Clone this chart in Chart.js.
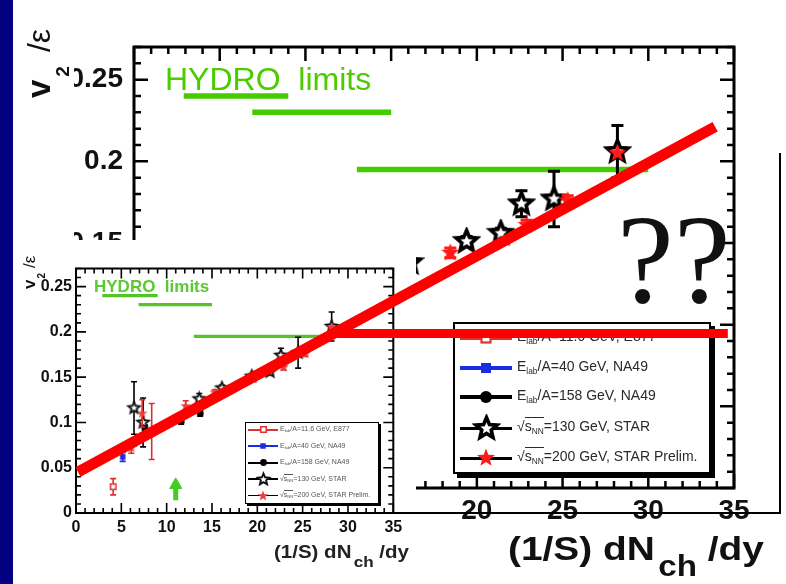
<!DOCTYPE html>
<html><head><meta charset="utf-8">
<script src="https://cdn.jsdelivr.net/npm/chart.js@4/dist/chart.umd.min.js"></script>
<style>
html,body{margin:0;padding:0;background:#fff;}
#stage{position:relative;width:786px;height:584px;overflow:hidden;background:#fff;font-family:"Liberation Sans",Arial,sans-serif;color:#111;}
.abs{position:absolute;}
.rot{transform:rotate(-90deg);transform-origin:0 0;white-space:nowrap;line-height:1;}
.nw{white-space:pre;line-height:1;}
.leg sub{font-size:0.6em;vertical-align:-0.3em;line-height:0;}
.ov{border-top:1.4px solid currentColor;}
.legbox{background:#fff;border:2px solid #000;box-sizing:border-box;}
</style></head>
<body>
<div id="stage">
  <canvas id="big" class="abs" width="786" height="584" style="left:0;top:0;z-index:1"></canvas>
  <div class="abs nw" id="hydroBig" style="left:165px;top:63px;font-size:32px;color:#4ccc00;z-index:2">HYDRO  limits</div>
  <div class="abs rot" id="ytBig" style="left:22px;top:98px;font-size:33px;z-index:2"><b>v</b><b style="font-size:19px;vertical-align:-19px;margin-left:3px">2</b><span style="font-size:32px;margin-left:14px">/ε</span></div>
  <div class="abs nw" id="xtBig" style="left:508px;top:531px;font-size:34px;font-weight:bold;z-index:2;transform-origin:0 0">(1/S) dN<span style="font-size:29px;vertical-align:-16px;margin-left:3px">ch</span> /dy</div>
  <div class="abs nw" id="qq" style="left:617px;top:195px;font-size:128px;font-family:'Liberation Serif','Times New Roman',serif;z-index:2">??</div>
  <div class="abs legbox leg" id="legBig" style="left:453px;top:322px;width:258px;height:152px;box-shadow:4px 4px 0 #000;z-index:2"></div>

  <div class="abs" id="insetBg" style="left:13px;top:240px;width:403px;height:344px;background:#fff;z-index:3"></div>
  <canvas id="inset" class="abs" width="786" height="584" style="left:0;top:0;z-index:4"></canvas>
  <div class="abs nw" id="hydroSm" style="left:94px;top:278px;font-size:17px;font-weight:bold;color:#5cc832;z-index:5">HYDRO  limits</div>
  <div class="abs rot" id="ytSm" style="left:21px;top:289px;font-size:17px;z-index:5"><b>v</b><b style="font-size:10px;vertical-align:-10px;margin-left:1px">2</b><span style="font-size:17px;margin-left:5px">/ε</span></div>
  <div class="abs nw" id="xtSm" style="left:274px;top:543px;font-size:18px;font-weight:bold;color:#222;z-index:5;transform-origin:0 0">(1/S) dN<span style="font-size:15px;vertical-align:-9px;margin-left:2px">ch</span> /dy</div>
  <div class="abs legbox leg" id="legSm" style="left:245px;top:422px;width:134px;height:82px;border-width:1.5px;box-shadow:2px 2px 0 #000;z-index:5"></div>

  <div class="abs" style="left:779px;top:153px;width:1.5px;height:361px;background:#000;z-index:6"></div>
  <div class="abs" style="left:393px;top:512px;width:388px;height:1.5px;background:#000;z-index:6"></div>
  <div class="abs" style="left:0;top:0;width:13px;height:584px;background:#000080;z-index:20"></div>
</div>
<script>
// ---------------- data ----------------
const xTickValues = [0, 5, 10, 15, 20, 25, 30, 35];
const yTickValues = [0, 0.05, 0.1, 0.15, 0.2, 0.25];

const e877X = [4.1];             const e877Y = [0.029];             const e877Err = [0.009];
const na40X = [5.15, 6.4];       const na40Y = [0.062, 0.078];      const na40Err = [0.005, 0.004];
const na158X = [7.6, 11.6, 13.7]; const na158Y = [0.094, 0.101, 0.110]; const na158Err = [0.003, 0.003, 0.003];
const star130X = [6.4, 7.4, 13.6, 16.1, 19.4, 21.4, 22.6, 24.5, 28.2];
const star130Y = [0.116, 0.100, 0.126, 0.138, 0.151, 0.156, 0.174, 0.177, 0.206];
const star130Err = [0.029, 0.027, 0.006, 0.003, 0.003, 0.003, 0.008, 0.017, 0.016];
const star200X = [6.1, 7.3, 8.35, 12.1, 15.3, 18.45, 22.9, 25.3, 28.2];
const star200Y = [0.072, 0.110, 0.090, 0.118, 0.133, 0.144, 0.161, 0.176, 0.205];
const star200Err = [0.006, 0.015, 0.031, 0.006, 0.003, 0.003, 0.003, 0.003, 0];
const hydroX0 = [2.9, 6.9, 13.0];
const hydroX1 = [9.0, 15.0, 30.0];
const hydroY = [0.240, 0.230, 0.195];
const arrowX = [11, 11];
const arrowY = [0.014, 0.031];
const fitX = [0.22, 70.5];
const fitY = [0.0453, 0.4265];
const capX = [28.9, 71.9];
const capY = [0.1983, 0.1983];
const legendLabels = [
  'E<sub>lab</sub>/A=11.6 GeV, E877',
  'E<sub>lab</sub>/A=40 GeV, NA49',
  'E<sub>lab</sub>/A=158 GeV, NA49',
  '√<span class="ov">s<sub>NN</sub></span>=130 GeV, STAR',
  '√<span class="ov">s<sub>NN</sub></span>=200 GeV, STAR Prelim.'
];

// ---------------- helpers ----------------
const pts = (xs, ys) => xs.map((x, i) => ({x: x, y: ys[i]}));
function mk(w, h, draw) { const c = document.createElement('canvas'); c.width = w; c.height = h; draw(c.getContext('2d'), w / 2, h / 2); return c; }
function starImg(R, fill, stroke, lw, ratio) {
  const s = Math.ceil(2 * R + lw + 3);
  return mk(s, s, (g, cx, cy) => {
    g.beginPath();
    for (let i = 0; i < 10; i++) {
      const rr = i % 2 ? R * ratio : R, a = -Math.PI / 2 + i * Math.PI / 5;
      g.lineTo(cx + rr * Math.cos(a), cy + rr * Math.sin(a));
    }
    g.closePath();
    if (fill) { g.fillStyle = fill; g.fill(); }
    if (stroke) { g.strokeStyle = stroke; g.lineWidth = lw; g.lineJoin = 'miter'; g.stroke(); }
  });
}
function sqImg(a, fill, stroke, lw) { const s = Math.ceil(a + lw + 2); return mk(s, s, (g, cx, cy) => { if (fill) { g.fillStyle = fill; g.fillRect(cx - a / 2, cy - a / 2, a, a); } if (stroke) { g.strokeStyle = stroke; g.lineWidth = lw; g.strokeRect(cx - a / 2, cy - a / 2, a, a); } }); }
function circImg(r, fill) { const s = Math.ceil(2 * r + 2); return mk(s, s, (g, cx, cy) => { g.fillStyle = fill; g.beginPath(); g.arc(cx, cy, r, 0, 2 * Math.PI); g.fill(); }); }

const ST = {
  big: {openStar: starImg(11, '#fff', '#000', 3.6, 0.45), redStar: starImg(9.5, '#ff1a1a', null, 0, 0.42),
        redSq: sqImg(9, '#fff', '#e03030', 2.2), blueSq: sqImg(10, '#1a2ee0', null, 0), circ: circImg(6, '#000'),
        err: 3, cap: 6, green: 5.5, frame: 3, tick: 2.5, maj: 14, min: 7, font: 28, pad: [6, 11]},
  small: {openStar: starImg(6, '#fff', '#111', 1.9, 0.45), redStar: starImg(5.5, '#f03a3a', null, 0, 0.42),
        redSq: sqImg(5.5, '#fff', '#e03030', 1.5), blueSq: sqImg(5.5, '#1a2ee0', null, 0), circ: circImg(3.4, '#000'),
        err: 1.6, cap: 3, green: 3.2, frame: 2, tick: 1.6, maj: 10, min: 5, font: 16, pad: [5, 4]}
};

const frameTicks = {
  id: 'frameTicks',
  beforeDatasetsDraw(chart, args, o) {
    const ctx = chart.ctx, a = chart.chartArea, xs = chart.scales.x, ys = chart.scales.y;
    ctx.save(); ctx.strokeStyle = '#000'; ctx.lineWidth = o.tick; ctx.lineCap = 'butt';
    ctx.beginPath();
    for (let i = 0; i <= 35; i++) {
      const px = xs.getPixelForValue(i), L = (i % 5 === 0) ? o.maj : o.min;
      ctx.moveTo(px, a.bottom); ctx.lineTo(px, a.bottom - L);
      ctx.moveTo(px, a.top); ctx.lineTo(px, a.top + L);
    }
    for (let j = 0; j <= 27; j++) {
      const py = ys.getPixelForValue(j / 100), L = (j % 5 === 0) ? o.maj : o.min;
      ctx.moveTo(a.left, py); ctx.lineTo(a.left + L, py);
      ctx.moveTo(a.right, py); ctx.lineTo(a.right - L, py);
    }
    ctx.stroke();
    ctx.lineWidth = o.frame; ctx.strokeRect(a.left, a.top, a.right - a.left, a.bottom - a.top);
    ctx.restore();
  }
};
const errorBars = {
  id: 'errorBars',
  beforeDatasetDraw(chart, args) {
    const ds = chart.data.datasets[args.index];
    if (!ds.errors) return;
    const ys = chart.scales.y, ctx = chart.ctx, meta = args.meta;
    ctx.save(); ctx.strokeStyle = ds.errColor; ctx.lineWidth = ds.errWidth;
    ds.data.forEach((p, i) => {
      const e = ds.errors[i]; if (!e) return;
      const x = meta.data[i].x, y1 = ys.getPixelForValue(p.y - e), y2 = ys.getPixelForValue(p.y + e);
      ctx.beginPath(); ctx.moveTo(x, y1); ctx.lineTo(x, y2);
      ctx.moveTo(x - ds.errCap, y1); ctx.lineTo(x + ds.errCap, y1);
      ctx.moveTo(x - ds.errCap, y2); ctx.lineTo(x + ds.errCap, y2);
      ctx.stroke();
    });
    ctx.restore();
  }
};

function dataDatasets(s, red) {
  const e = (errs, col) => ({errors: errs, errColor: col, errWidth: s.err, errCap: s.cap});
  const list = [];
  hydroY.forEach((y, i) => list.push({label: 'hydro' + i, data: [{x: hydroX0[i], y: y}, {x: hydroX1[i], y: y}], showLine: true,
    borderColor: s === ST.big ? '#44cc00' : '#55c42a', borderWidth: s.green, pointRadius: 0, borderCapStyle: 'butt', order: 9}));
  list.push(Object.assign({label: 'E877', data: pts(e877X, e877Y), pointStyle: s.redSq, order: 5}, e(e877Err, red)));
  list.push(Object.assign({label: 'NA49 40', data: pts(na40X, na40Y), pointStyle: s.blueSq, order: 5}, e(na40Err, '#1a2ee0')));
  list.push(Object.assign({label: 'NA49 158', data: pts(na158X, na158Y), pointStyle: s.circ, order: 4}, e(na158Err, '#000')));
  list.push(Object.assign({label: 'STAR 130', data: pts(star130X, star130Y), pointStyle: s.openStar, order: 3}, e(star130Err, '#000')));
  list.push(Object.assign({label: 'STAR 200', data: pts(star200X, star200Y), pointStyle: s.redStar, order: 2}, e(star200Err, red)));
  return list;
}

function makeChart(id, s, area, datasets, yw, xh) {
  const pad = {left: area.left - yw, right: 786 - area.right, top: area.top, bottom: 584 - area.bottom - xh};
  return new Chart(document.getElementById(id), {
    type: 'scatter',
    data: {datasets: datasets},
    options: {
      responsive: false, animation: false, events: [],
      layout: {padding: pad},
      plugins: {legend: {display: false}, tooltip: {enabled: false}, frameTicks: s},
      elements: {point: {radius: 5, hoverRadius: 5}},
      scales: {
        x: {type: 'linear', min: 0, max: 35, afterFit: sc => { sc.height = xh; },
            afterBuildTicks: sc => { sc.ticks = xTickValues.map(v => ({value: v})); },
            grid: {display: false, drawTicks: false}, border: {display: false},
            ticks: {font: {size: s.font, weight: 'bold'}, color: '#111', padding: s.pad[0], maxRotation: 0, autoSkip: false}},
        y: {type: 'linear', min: 0, max: 0.27, afterFit: sc => { sc.width = yw; },
            afterBuildTicks: sc => { sc.ticks = yTickValues.map(v => ({value: v})); },
            grid: {display: false, drawTicks: false}, border: {display: false},
            ticks: {font: {size: s.font, weight: 'bold'}, color: '#111', padding: s.pad[1], autoSkip: false,
                    callback: v => String(+(+v).toFixed(2))}}
      }
    },
    plugins: [frameTicks, errorBars]
  });
}

// big background chart
makeChart('big', ST.big, {left: 134, right: 734, top: 47, bottom: 488}, dataDatasets(ST.big, '#ff1a1a'), 60, 50);

// inset chart with the red overlay lines
const insetSets = dataDatasets(ST.small, '#d83030');
insetSets.push({label: 'arrow', data: pts(arrowX, arrowY), showLine: true, borderColor: '#44cc22', borderWidth: 5,
  pointStyle: 'triangle', pointRadius: c => c.dataIndex === 1 ? 7 : 0, pointBackgroundColor: '#44cc22', pointBorderColor: '#44cc22', pointBorderWidth: 1, order: 6});
insetSets.push({label: 'fit', data: pts(fitX, fitY), showLine: true, borderColor: '#ff0000', borderWidth: 11, pointRadius: 0, clip: false, borderCapStyle: 'butt', order: 0});
insetSets.push({label: 'cap', data: pts(capX, capY), showLine: true, borderColor: '#ff0000', borderWidth: 9, pointRadius: 0, clip: false, borderCapStyle: 'butt', order: 0});
makeChart('inset', ST.small, {left: 76, right: 393.3, top: 268.5, bottom: 513}, insetSets, 40, 30);

// legends
function buildLegend(el, s, g) {
  const markers = [s.redSq, s.blueSq, s.circ, s.openStar, s.redStar];
  const lineCols = ['#e03030', '#1a2ee0', '#000', '#000', '#000'];
  legendLabels.forEach((lab, i) => {
    const cy = g.rows[i];
    const ln = document.createElement('div');
    ln.style.cssText = `position:absolute;left:${g.x0}px;width:${g.x1 - g.x0}px;top:${cy - g.lw[i] / 2}px;height:${g.lw[i]}px;background:${lineCols[i]}`;
    el.appendChild(ln);
    const im = document.createElement('img');
    im.src = markers[i].toDataURL();
    im.style.cssText = `position:absolute;left:${g.mx - markers[i].width / 2}px;top:${cy - markers[i].height / 2}px`;
    el.appendChild(im);
    const t = document.createElement('div');
    t.innerHTML = lab;
    t.style.cssText = `position:absolute;left:${g.tx}px;top:${cy - g.fs * 0.62}px;font-size:${g.fs}px;line-height:1;white-space:nowrap;color:${g.col}`;
    el.appendChild(t);
  });
}
buildLegend(document.getElementById('legBig'), ST.big, {rows: [14, 44, 73, 104, 134], x0: 5, x1: 57, mx: 31, tx: 62, fs: 14, lw: [4, 4, 4, 3, 3], col: '#2a2a2a'});
buildLegend(document.getElementById('legSm'), ST.small, {rows: [6.5, 23, 39.5, 56, 72.5], x0: 2, x1: 32, mx: 17, tx: 34, fs: 7, lw: [2, 2, 2, 1.5, 1.5], col: '#555'});

// stretch axis titles to the widths seen in the picture
function fitWidth(id, target) {
  const el = document.getElementById(id);
  const w = el.getBoundingClientRect().width;
  el.style.transform = `scaleX(${target / w})`;
}
fitWidth('xtBig', 256);
fitWidth('xtSm', 135);
</script>
</body></html>
